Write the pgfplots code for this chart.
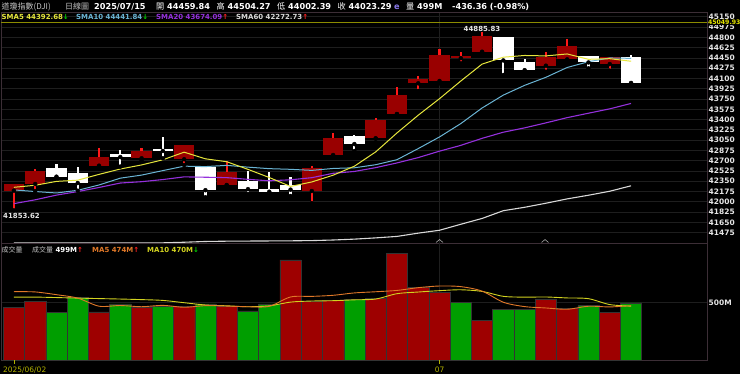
\documentclass[border=0pt]{standalone}
\usepackage{pgfplots}
\usepackage{pgfplotstable}
\pgfplotsset{compat=1.18}
\usepackage{fontspec}
\setmainfont{DejaVu Sans}
\newfontfamily\cjk{Noto Sans CJK TC}
\definecolor{upbody}{HTML}{990000}
\definecolor{upwick}{HTML}{FF1A1A}
\definecolor{volred}{HTML}{9E0000}
\definecolor{volgreen}{HTML}{009E00}
\definecolor{ma5}{HTML}{E6E63C}
\definecolor{ma10}{HTML}{6AB4D4}
\definecolor{ma20}{HTML}{9430DC}
\definecolor{ma60}{HTML}{D8D8D8}
\definecolor{vma5}{HTML}{E07828}
\definecolor{vma10}{HTML}{D2D220}
\definecolor{gridc}{HTML}{1E1E1E}
\definecolor{framec}{HTML}{3C2E36}
\definecolor{oliv}{HTML}{8C8C00}
\definecolor{yel}{HTML}{E8E800}
\definecolor{tickc}{HTML}{E6E6E6}
\definecolor{greyt}{HTML}{C4C4C4}
\definecolor{arrg}{HTML}{00D000}
\definecolor{arrr}{HTML}{FF2020}
\definecolor{datec}{HTML}{B4B400}
\definecolor{ecol}{HTML}{8878E8}

% candles: day, open, high, low, close
\pgfplotstableread{
d O H L C
0 42190 42310 41853.62 42305.48
1 42303 42558 42184 42519.64
4 42615 42911 42570 42762.87
6 42741 42911 42700 42866.87
8 42724 42975 42626 42967.62
10 42286 42695 42280 42515.09
14 42184 42610 41975 42581.78
15 42797 43176 42780 43089.02
17 43081 43426 43075 43386.84
18 43495 43959 43490 43819.27
19 44017 44141 43886 44094.77
20 44056 44596 44017 44494.94
21 44445 44545 44357 44484.42
22 44555 44885.83 44540 44828.53
25 44317 44550 44215 44458.30
26 44425 44771 44368 44650.64
28 44345 44470 44232 44459.65
}\upc
\pgfplotstableread{
d O H L C
2 42570 42644 42410 42427.74
3 42485 42598 42189 42319.74
5 42810 42882 42600 42761.76
7 42905 43108 42741 42865.77
9 42587 42600 42077 42197.79
11 42354 42530 42133 42215.80
12 42225 42502 42116 42171.66
13 42286 42427 42099 42206.82
16 43125 43130 42865 42982.43
23 44800 44800 44158 44406.36
24 44374 44431 44197 44240.76
27 44482 44490 44272 44371.51
29 44459.84 44504.27 44002.39 44023.29
}\dnc
% moving averages of the close
\pgfplotstableread{
d s5 s10 s20 s60
0 42246.73 42202.55 41969.21 41300
1 42281.92 42175.31 42034.26 41300
2 42347.73 42150.36 42114.19 41300
3 42368.53 42196.29 42174.48 41300
4 42467.09 42286.67 42244.20 41300
5 42558.35 42402.54 42319.82 41300
6 42627.80 42454.86 42342.66 41300
7 42715.40 42531.57 42378.90 41302
8 42844.98 42606.76 42424.76 41312
9 42731.96 42599.53 42418.50 41325
10 42682.63 42620.49 42411.52 41330
11 42552.41 42590.11 42382.71 41332
12 42413.59 42564.50 42357.43 41334
13 42261.43 42553.21 42374.75 41336
14 42338.23 42535.10 42410.89 41340
15 42453.02 42567.82 42485.18 41350
16 42606.34 42579.38 42517.12 41365
17 42849.38 42631.49 42581.53 41386
18 43171.87 42716.65 42661.71 41411
19 43474.47 42906.35 42752.94 41467
20 43755.65 43104.33 42862.41 41516
21 44056.05 43331.20 42960.66 41618
22 44344.39 43596.88 43080.69 41717
23 44461.80 43816.84 43185.03 41849
24 44491.00 43982.73 43258.92 41907
25 44483.67 44119.66 43343.74 41976
26 44516.92 44286.48 43432.93 42050
27 44425.51 44384.95 43508.22 42112
28 44436.17 44448.99 43582.82 42180
29 44392.68 44441.84 43674.09 42272.73
}\sma
% volume (millions)
\pgfplotstableread{
d v
0 460
1 509
4 419
6 457
8 465
10 471
13 873
14 515
15 518
17 540
18 931
19 635
20 590
22 345
25 530
26 450
28 416
}\vred
\pgfplotstableread{
d v
2 413
3 547
5 489
7 471
9 489
11 428
12 489
16 532
21 505
23 445
24 445
27 475
29 499
}\vgreen
\pgfplotstableread{
d m5 m10
0 596 549
1 594 549
2 570 545
3 540 540
4 469.6 536
5 475.4 532
6 465.0 527
7 476.6 520
8 460.2 500
9 474.2 480
10 470.6 473
11 464.8 464.9
12 468.4 472.5
13 550.0 505.1
14 555.2 514.7
15 564.6 517.6
16 585.4 525.1
17 595.6 532.0
18 607.2 578.6
19 631.2 593.2
20 645.6 605.1
21 640.2 612.8
22 601.2 598.4
23 504.0 555.6
24 466.0 548.6
25 454.0 549.8
26 443.0 541.6
27 469.0 535.1
28 463.2 483.6
29 474.0 470.0
}\vma

\pgfplotsset{panel/.style={
  scale only axis, width=706bp, xmin=-0.606, xmax=32.57,
  axis line style={draw=framec, line width=0.8bp},
  grid style={draw=gridc, line width=0.7bp},
  major tick length=0pt, tick style={draw=none},
  yticklabel pos=right, scaled y ticks=false,
  yticklabel style={anchor=west, inner sep=0pt, xshift=1.5bp,
    font=\fontsize{7.5}{8}\selectfont\bfseries, text=tickc,
    /pgf/number format/fixed, /pgf/number format/precision=0,
    /pgf/number format/1000 sep={}, /pgf/number format/assume math mode=true}}}

\begin{document}
\begin{tikzpicture}[x=1bp,y=1bp]
\fill[black] (0,0) rectangle (740,374);

% ---------------- price panel (box from 243 px up to 12 px) ----------------
\begin{scope}[shift={(1,131)}]
\begin{axis}[panel, height=231bp,
  ymin=41299, ymax=45231,
  xtick={20}, xticklabels={}, xmajorgrids, ymajorgrids,
  ytick={41475,41650,41825,42000,42175,42350,42525,42700,42875,43050,43225,43400,43575,43750,43925,44100,44275,44450,44625,44800,44975,45150}]
\addplot[oliv, line width=1.4bp] coordinates {(-0.606,45049.93) (32.57,45049.93)};
% up candles
\addplot[only marks, mark=none, error bars/.cd, y dir=plus, y explicit, error mark=none,
  error bar style={draw=upwick, line width=2.2bp}]
  table[x=d, y=L, y error plus expr={\thisrow{H}-\thisrow{L}}] {\upc};
\addplot[only marks, mark=none, error bars/.cd, y dir=plus, y explicit, error mark=none,
  error bar style={draw=upbody, line width=20.4bp}]
  table[x=d, y=O, y error plus expr={\thisrow{C}-\thisrow{O}}] {\upc};
% down candles
\addplot[only marks, mark=none, error bars/.cd, y dir=plus, y explicit, error mark=none,
  error bar style={draw=white, line width=2.2bp}]
  table[x=d, y=L, y error plus expr={\thisrow{H}-\thisrow{L}}] {\dnc};
\addplot[only marks, mark=none, error bars/.cd, y dir=plus, y explicit, error mark=none,
  error bar style={draw=white, line width=20.4bp}]
  table[x=d, y=C, y error plus expr={\thisrow{O}-\thisrow{C}}] {\dnc};
% moving averages
\addplot[ma60, line width=1.1bp] table[x=d, y=s60] {\sma};
\addplot[ma20, line width=1.1bp] table[x=d, y=s20] {\sma};
\addplot[ma10, line width=1.0bp] table[x=d, y=s10] {\sma};
\addplot[ma5, line width=1.0bp] table[x=d, y=s5] {\sma};
\end{axis}
\end{scope}

% ---------------- volume panel (box from 360 px up to 243 px) ----------------
\begin{scope}[shift={(1,14)}]
\begin{axis}[panel, height=117bp,
  ymin=0, ymax=1021,
  xtick={0,20}, xticklabels={},
  extra x ticks={20}, extra x tick labels={}, extra x tick style={grid=major},
  ytick={500}, yticklabels={500M}, ymajorgrids]
\addplot[ybar, bar width=21.28bp, bar shift=0pt, fill=volred, draw=black!80, line width=0.5bp] table[x=d, y=v] {\vred};
\addplot[ybar, bar width=21.28bp, bar shift=0pt, fill=volgreen, draw=black!80, line width=0.5bp] table[x=d, y=v] {\vgreen};
\addplot[vma10, line width=0.9bp, smooth, tension=0.5] table[x=d, y=m10] {\vma};
\addplot[vma5, line width=0.9bp, smooth, tension=0.5] table[x=d, y=m5] {\vma};
\end{axis}
\end{scope}

% date ticks
\draw[datec, line width=0.6bp] (13.9,14) -- (13.9,10.5);
\draw[datec, line width=0.6bp] (439.5,14) -- (439.5,10.5);
\node[anchor=base west, inner sep=0pt, text=datec, font=\fontsize{7.5}{8}\selectfont] at (3,1.2) {2025/06/02};
\node[anchor=base, inner sep=0pt, text=datec, font=\fontsize{7.5}{8}\selectfont] at (439.5,1.2) {07};

% event markers
\draw[gray!70, line width=0.6bp] (436,131.5) -- (439.5,134.5) -- (443,131.5);
\draw[gray!70, line width=0.6bp] (541.5,131.5) -- (545,134.5) -- (548.5,131.5);

% labels in price panel
\node[anchor=west, inner sep=0.3bp, fill=black, text=yel, font=\fontsize{6.2}{7}\selectfont\bfseries] at (707.5,351.4) {45049.93};
\node[anchor=base west, inner sep=0pt, text=tickc, font=\fontsize{7}{8}\selectfont\bfseries] at (3,155.5) {41853.62};
\node[anchor=base, inner sep=0pt, text=tickc, font=\fontsize{7}{8}\selectfont\bfseries] at (482,343) {44885.83};

% header line 1
\node[anchor=base west, inner sep=0pt, text=greyt, font=\fontsize{8}{9}\selectfont] at (1.5,365) {\cjk 道瓊指數(DJI)};
\node[anchor=base west, inner sep=0pt, text=greyt, font=\fontsize{8}{9}\selectfont] at (65,365) {\cjk 日線圖};
\begin{scope}[every node/.style={anchor=base west, inner sep=0pt, text=white, font=\fontsize{8.2}{9}\selectfont\bfseries}]
\node at (94,364.5) {2025/07/15};
\node at (156,364.5) {{\mdseries\cjk 開} 44459.84};
\node at (216.5,364.5) {{\mdseries\cjk 高} 44504.27};
\node at (277,364.5) {{\mdseries\cjk 低} 44002.39};
\node at (337.5,364.5) {{\mdseries\cjk 收} 44023.29};
\node[text=ecol] at (394,364.5) {e};
\node at (406,364.5) {{\mdseries\cjk 量} 499M};
\node at (452,364.5) {-436.36 (-0.98\%)};
\end{scope}

% header line 2 (SMA legend)
\begin{scope}[every node/.style={anchor=base west, inner sep=0pt, font=\fontsize{7}{8}\selectfont\bfseries}]
\node[text=ma5] at (1.5,354.5) {SMA5 44392.68\textcolor{arrg}{↓}};
\node[text=ma10] at (76,354.5) {SMA10 44441.84\textcolor{arrg}{↓}};
\node[text=ma20] at (156,354.5) {SMA20 43674.09\textcolor{arrr}{↑}};
\node[text=ma60] at (236,354.5) {SMA60 42272.73\textcolor{arrr}{↑}};
\end{scope}

% volume legend
\begin{scope}[every node/.style={anchor=base west, inner sep=0pt, font=\fontsize{7}{8}\selectfont\bfseries}]
\node[text=greyt] at (1.5,122) {\mdseries\cjk 成交量};
\node[text=white] at (32,122) {{\mdseries\color{greyt}\cjk 成交量} 499M\textcolor{arrr}{↑}};
\node[text=vma5] at (92,122) {MA5 474M\textcolor{arrr}{↑}};
\node[text=vma10] at (147,122) {MA10 470M\textcolor{arrg}{↓}};
\end{scope}

\pgfresetboundingbox
\path[use as bounding box] (0,0) rectangle (740,374);
\end{tikzpicture}
\end{document}
